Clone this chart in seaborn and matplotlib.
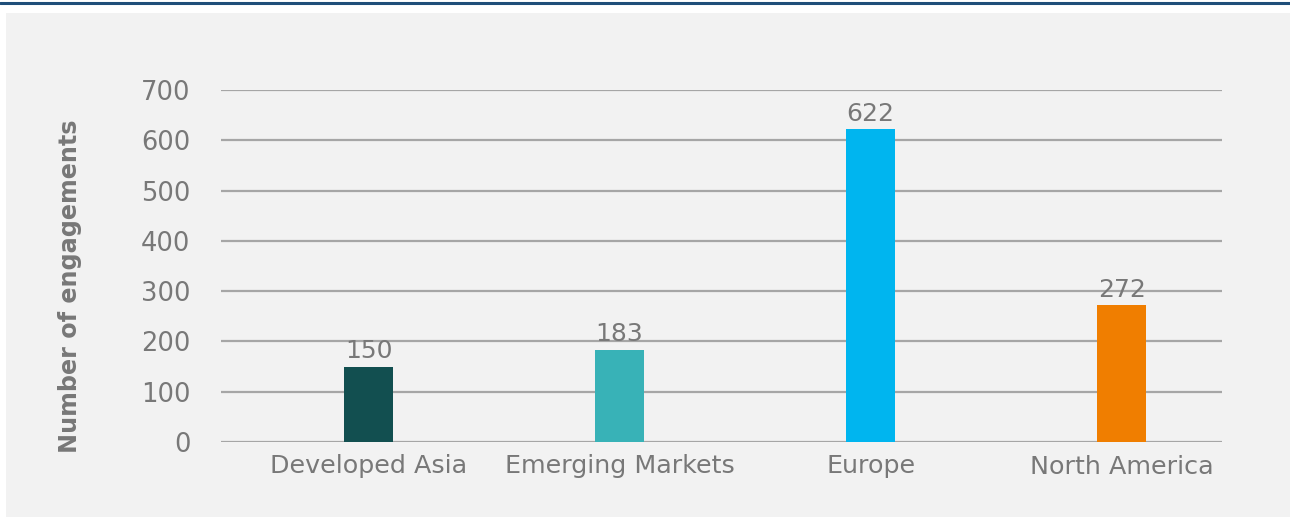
import matplotlib
matplotlib.use("Agg")
import matplotlib.pyplot as plt
from matplotlib.patches import Rectangle
from matplotlib.lines import Line2D
import seaborn as sns
import pandas as pd

regions = ["Developed Asia", "Emerging Markets", "Europe", "North America"]
engagements = [150, 183, 622, 272]
bar_colors = ["#124f50", "#38b2b7", "#00b5ef", "#f07e00"]
y_ticks = [0, 100, 200, 300, 400, 500, 600, 700]

sns.set_theme(style="white")
plt.rcParams["font.family"] = ["DejaVu Sans"]

text_gray = "#787878"
grid_gray = "#a6a6a6"
panel_gray = "#f2f2f2"

fig = plt.figure(figsize=(12.9, 5.17), dpi=100, facecolor="white")

# panel background and the rule along the top edge
fig.add_artist(Rectangle((6 / 1290, 0), 1 - 6 / 1290, 1 - 13 / 517,
                         transform=fig.transFigure, facecolor=panel_gray,
                         edgecolor="none", zorder=0))
fig.add_artist(Line2D([0, 1], [1 - 2.5 / 517, 1 - 2.5 / 517],
                      transform=fig.transFigure, color="#1f4e79", lw=2.2))

ax = fig.add_axes([221 / 1290, 75 / 517, 1001 / 1290, 352 / 517])
ax.patch.set_alpha(0)

df = pd.DataFrame({"region": regions, "engagements": engagements})
sns.barplot(data=df, x="region", y="engagements", hue="region",
            palette=bar_colors, width=0.195, legend=False, ax=ax,
            saturation=1, linewidth=0, zorder=3)

ax.set_xlim(-0.588, 3.40)
ax.set_ylim(0, 700)
ax.set_yticks(y_ticks)
ax.yaxis.grid(True, color=grid_gray, lw=1.6, zorder=0)
ax.set_axisbelow(True)
for s in ax.spines.values():
    s.set_visible(False)

ax.tick_params(axis="y", length=0, pad=22, labelsize=18.5, labelcolor=text_gray)
ax.tick_params(axis="x", length=0, pad=9, labelsize=18.3, labelcolor=text_gray)
ax.set_xlabel("")
ax.set_ylabel("Number of engagements", fontsize=17.2, fontweight="bold",
              color=text_gray)
ax.yaxis.set_label_coords(-0.139, 0.443)

for i, v in enumerate(engagements):
    ax.text(i, v + 7, str(v), ha="center", va="bottom", fontsize=18,
            color=text_gray, zorder=4)

fig.savefig("out.png", dpi=100, facecolor="white")
